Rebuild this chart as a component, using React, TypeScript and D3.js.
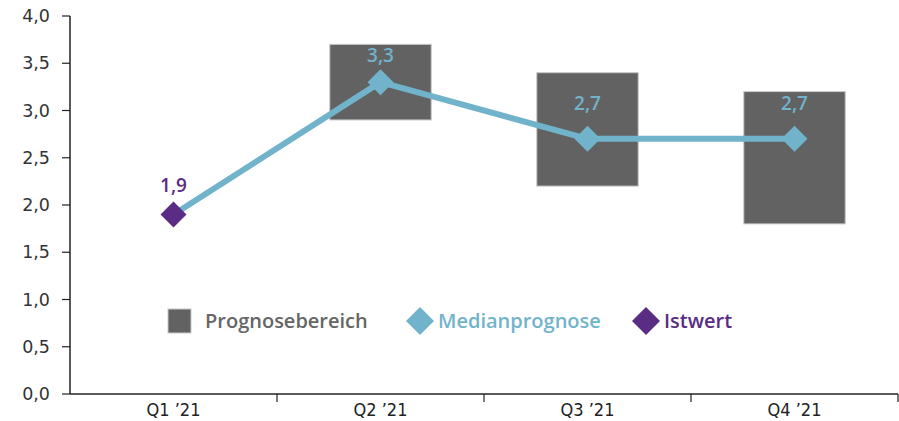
import React from "react";
import * as d3 from "d3";

const categories = ["Q1 ’21", "Q2 ’21", "Q3 ’21", "Q4 ’21"];
const rangeLow: (number | null)[] = [null, 2.9, 2.2, 1.8];
const rangeHigh: (number | null)[] = [null, 3.7, 3.4, 3.2];
const median = [1.9, 3.3, 2.7, 2.7];
const actual: (number | null)[] = [1.9, null, null, null];
const yTicks = [0, 0.5, 1, 1.5, 2, 2.5, 3, 3.5, 4];

const W = 899, H = 421;
const M = { left: 70, right: 1, top: 16, bottom: 27 };
const GREY = "#666666";
const BLUE = "#72b3cc";
const PURPLE = "#5a2c83";

export default function App() {
  const x = d3.scaleBand().domain(categories).range([M.left, W - M.right]);
  const y = d3.scaleLinear().domain([0, 4]).range([H - M.bottom, M.top]);
  const cx = (c: string) => (x(c) as number) + x.bandwidth() / 2;
  const line = d3.line<number>().x((_, i) => cx(categories[i])).y(d => y(d));
  const fmt = (v: number) => v.toFixed(1).replace(".", ",");
  const boxW = x.bandwidth() * 0.49;
  const diamond = (s: number) => `M0,${-s}L${s},0L0,${s}L${-s},0Z`;
  const font = "'Open Sans', sans-serif";
  return (
    <svg width={W} height={H} style={{ position: "absolute", left: 0, top: 0 }}>
      <rect width={W} height={H} fill="#fff" />
      {categories.map((c, i) =>
        rangeLow[i] != null ? (
          <rect key={c} x={cx(c) - boxW / 2} y={y(rangeHigh[i] as number)} width={boxW}
            height={y(rangeLow[i] as number) - y(rangeHigh[i] as number)} fill="#626262" stroke="#c8c8c8" strokeWidth={1} />
        ) : null
      )}
      <path d={line(median) || ""} fill="none" stroke={BLUE} strokeWidth={6} strokeLinejoin="round" />
      {median.map((v, i) =>
        actual[i] == null ? (
          <path key={i} d={diamond(13)} transform={`translate(${cx(categories[i])},${y(v)})`} fill={BLUE} />
        ) : null
      )}
      {actual.map((v, i) =>
        v != null ? (
          <path key={i} d={diamond(13)} transform={`translate(${cx(categories[i])},${y(v)})`} fill={PURPLE} />
        ) : null
      )}
      {median.map((v, i) => (
        <text key={i} x={cx(categories[i])} y={y(v) - (i === 0 ? 29 : i === 1 ? 27 : 36)} dy="0.35em"
          textAnchor="middle" fontFamily={font} fontWeight={600} fontSize={19}
          fill={actual[i] != null ? PURPLE : BLUE}>{fmt(actual[i] ?? v)}</text>
      ))}
      {/* axes */}
      <line x1={M.left} x2={M.left} y1={y(4)} y2={y(0)} stroke="#222" strokeWidth={1.5} />
      <line x1={M.left} x2={W - M.right} y1={y(0)} y2={y(0)} stroke="#222" strokeWidth={1.5} />
      {yTicks.map(t => (
        <g key={t}>
          <line x1={M.left - 8} x2={M.left} y1={y(t)} y2={y(t)} stroke="#222" strokeWidth={1.2} />
          <text x={M.left - 20} y={y(t)} dy="0.35em" textAnchor="end" fontFamily="'DejaVu Sans', Verdana, sans-serif"
            fontSize={17.5} fill="#333">{fmt(t)}</text>
        </g>
      ))}
      {categories.map(c => (
        <g key={c}>
          <line x1={(x(c) as number) + x.bandwidth()} x2={(x(c) as number) + x.bandwidth()} y1={y(0)} y2={y(0) + 8} stroke="#222" strokeWidth={1.2} />
          <text x={cx(c)} y={y(0) + 16} dy="0.35em" textAnchor="middle" fontFamily="'DejaVu Sans Condensed', 'DejaVu Sans', sans-serif"
            fontSize={18} fill="#222" style={{ fontStretch: "condensed" }}>{c}</text>
        </g>
      ))}
      {/* legend */}
      <g fontFamily={font} fontWeight={600} fontSize={20}>
        <rect x={168} y={309} width={23} height={24} fill="#626262" stroke="#c8c8c8" />
        <text x={205} y={321} dy="0.35em" fill={GREY}>Prognosebereich</text>
        <path d={diamond(14)} transform="translate(420,321)" fill={BLUE} />
        <text x={438} y={321} dy="0.35em" fill={BLUE}>Medianprognose</text>
        <path d={diamond(14)} transform="translate(646,321)" fill={PURPLE} />
        <text x={664} y={321} dy="0.35em" fill={PURPLE}>Istwert</text>
      </g>
    </svg>
  );
}
